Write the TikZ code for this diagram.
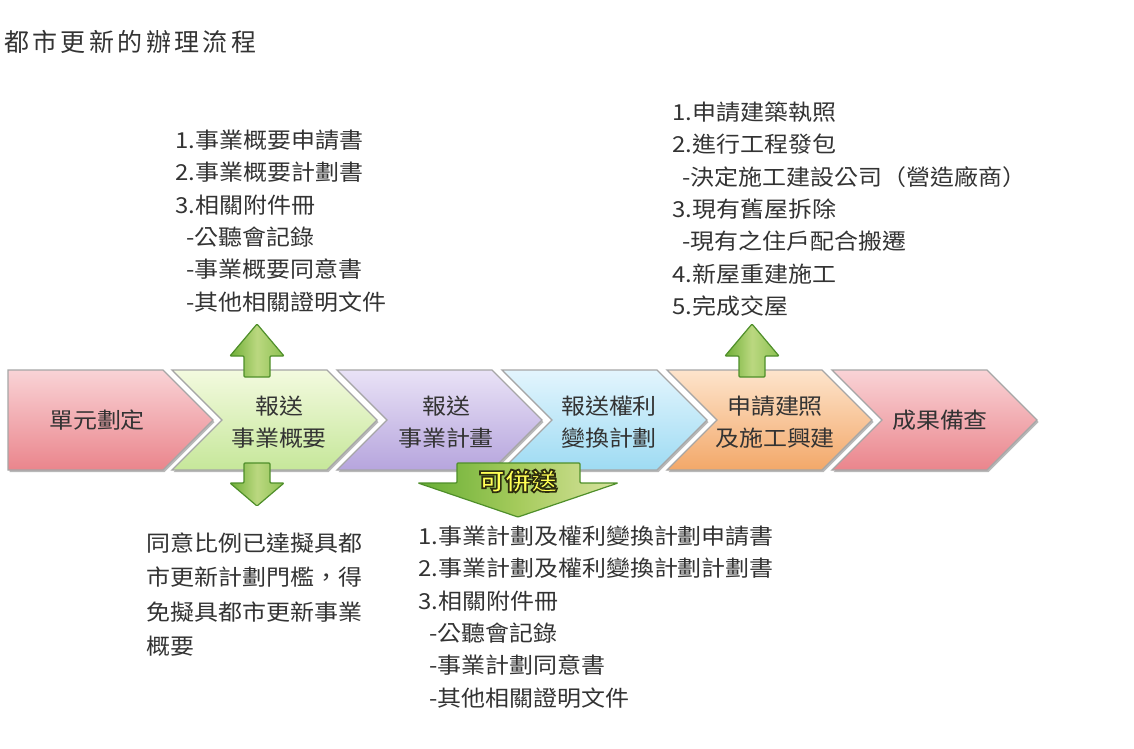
\documentclass[tikz,border=0pt]{standalone}
\usepackage{fontspec}
\setmainfont[FakeStretch=1.09]{Noto Sans CJK TC}
\newfontfamily\titlefont{Noto Sans CJK TC}
\definecolor{txt}{HTML}{333333}
\definecolor{chevline}{HTML}{A6A6A6}
\definecolor{rT}{HTML}{F9D3D6}\definecolor{rB}{HTML}{EA858C}
\definecolor{gT}{HTML}{F3FADF}\definecolor{gB}{HTML}{C6E79A}
\definecolor{pT}{HTML}{E9E2F6}\definecolor{pB}{HTML}{B6A5DD}
\definecolor{bT}{HTML}{E3F5FD}\definecolor{bB}{HTML}{9EDBF3}
\definecolor{oT}{HTML}{FDE4CC}\definecolor{oB}{HTML}{F3A869}
\definecolor{gline}{HTML}{4F8F2A}
\definecolor{gl}{HTML}{6EAE35}\definecolor{gm}{HTML}{BBD880}\definecolor{gr}{HTML}{8DC152}
\definecolor{bl}{HTML}{67AE35}\definecolor{bm}{HTML}{A5CB5C}\definecolor{br}{HTML}{D8E3A0}
\definecolor{ylw}{HTML}{FFFF55}
\tikzset{
  chev/.style={draw=chevline, line width=1.3pt, line join=miter},
  chevshadow/.style={fill=black!28},
  ctext/.style={text=txt, align=center, inner sep=0pt, font=\fontsize{22}{32}\selectfont},
  listtext/.style={text=txt, align=left, anchor=north west, inner sep=0pt, font=\fontsize{22}{32.4}\selectfont},
  smallarrow/.style={draw=gline, line width=1.2pt, left color=gl, right color=gr, middle color=gm, rounded corners=1pt},
  bigarrow/.style={draw=gline, line width=1.2pt, left color=bl, right color=br, middle color=bm, rounded corners=1pt},
}
\newcommand\chevnotch[3]{%
  \fill[chevshadow] (#1+1.5,372) -- ++(155,0) -- ++(50,50) -- ++(-50,50) -- ++(-155,0) -- ++(50,-50) -- cycle;
  \draw[chev, top color=#2, bottom color=#3] (#1,370) -- ++(155,0) -- ++(50,50) -- ++(-50,50) -- ++(-155,0) -- ++(50,-50) -- cycle;
}
\newcommand\uparr[1]{%
  \draw[smallarrow] (#1-13,377) -- (#1-13,356) -- (#1-27,356) -- (#1,324) -- (#1+27,356) -- (#1+13,356) -- (#1+13,377) -- cycle;
}
\newcommand\ls[1]{#1\hspace{3.4pt}}
\newcommand\outlined[1]{\special{pdf:literal direct q 2 Tr 1.7 w 0.18 0.18 0.06 RG}#1\special{pdf:literal direct Q}}
\begin{document}
\begin{tikzpicture}[x=1pt,y=-1pt]
\useasboundingbox (0,0) rectangle (1134,748);
\fill[white] (0,0) rectangle (1134,748);

% title
\node[anchor=west, inner sep=0pt, text=txt, font=\titlefont\fontsize{25}{28}\selectfont] (title) at (4,42) {\ls{都}\ls{市}\ls{更}\ls{新}\ls{的}\ls{辦}\ls{理}\ls{流}程};

% chevrons
\fill[chevshadow] (9.5,372) -- ++(155,0) -- ++(50,50) -- ++(-50,50) -- ++(-155,0) -- cycle;
\draw[chev, top color=rT, bottom color=rB] (8,370) -- ++(155,0) -- ++(50,50) -- ++(-50,50) -- ++(-155,0) -- cycle;
\chevnotch{172}{gT}{gB}
\chevnotch{337}{pT}{pB}
\chevnotch{502}{bT}{bB}
\chevnotch{667}{oT}{oB}
\chevnotch{832}{rT}{rB}

\node[ctext] (c1) at (97,420) {單元劃定};
\node[ctext] (c2) at (279,422) {報送\\事業概要};
\node[ctext] (c3) at (446,422) {報送\\事業計畫};
\node[ctext] (c4) at (609,422) {報送權利\\變換計劃};
\node[ctext] (c5) at (775,422) {申請建照\\及施工興建};
\node[ctext] (c6) at (940,420) {成果備查};

% arrows
\uparr{257}
\uparr{752}
\draw[smallarrow] (244,463) -- (270,463) -- (270,483) -- (284,483) -- (257,506) -- (230,483) -- (244,483) -- cycle;
\draw[bigarrow] (457,463) -- (580,463) -- (580,483) -- (618,483) -- (518,517) -- (418,483) -- (457,483) -- cycle;
\node[inner sep=0pt, text=ylw, font=\bfseries\fontsize{24}{26}\selectfont] (merge) at (518,481) {\outlined{可併送}};

% text blocks
\node[listtext] (tl) at (175,129.5) {1.事業概要申請書\\2.事業概要計劃書\\3.相關附件冊\\\hspace*{11pt}-公聽會記錄\\\hspace*{11pt}-事業概要同意書\\\hspace*{11pt}-其他相關證明文件};
\node[listtext] (tr) at (672,101.5) {1.申請建築執照\\2.進行工程發包\\\hspace*{10pt}-決定施工建設公司（營造廠商）\\3.現有舊屋拆除\\\hspace*{10pt}-現有之住戶配合搬遷\\4.新屋重建施工\\5.完成交屋};
\node[listtext, font=\fontsize{22}{34.5}\selectfont] (bl) at (146,532.5) {同意比例已達擬具都\\市更新計劃門檻，得\\免擬具都市更新事業\\概要};
\node[listtext] (bm) at (418,525.5) {1.事業計劃及權利變換計劃申請書\\2.事業計劃及權利變換計劃計劃書\\3.相關附件冊\\\hspace*{11pt}-公聽會記錄\\\hspace*{11pt}-事業計劃同意書\\\hspace*{11pt}-其他相關證明文件};
\end{tikzpicture}
\end{document}
